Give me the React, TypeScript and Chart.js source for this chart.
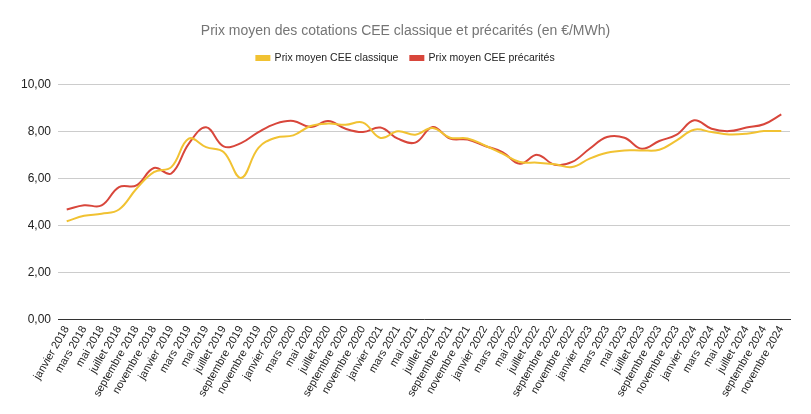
import { useEffect, useRef } from "react";
import { Chart, registerables, ChartOptions, Plugin } from "chart.js";

Chart.register(...registerables);

const months = ["janvier", "mars", "mai", "juillet", "septembre", "novembre"];
const years = [2018, 2019, 2020, 2021, 2022, 2023, 2024];
const labels: string[] = years.flatMap((y) => months.map((m) => `${m} ${y}`));

const classique = [
  4.18, 4.41, 4.5, 4.68, 5.56, 6.27, 6.48, 7.69, 7.33, 7.12, 6.02, 7.3,
  7.73, 7.83, 8.23, 8.33, 8.28, 8.37, 7.72, 8.0, 7.86, 8.14, 7.73, 7.7,
  7.4, 7.05, 6.7, 6.67, 6.6, 6.48, 6.84, 7.09, 7.19, 7.19, 7.22, 7.62,
  8.07, 7.97, 7.87, 7.9, 8.01, 8.01,
];

const precarites = [
  4.68, 4.86, 4.85, 5.63, 5.7, 6.44, 6.21, 7.47, 8.17, 7.36, 7.5, 7.97,
  8.33, 8.44, 8.18, 8.44, 8.11, 7.97, 8.16, 7.69, 7.52, 8.18, 7.69, 7.65,
  7.38, 7.12, 6.62, 7.0, 6.58, 6.7, 7.26, 7.76, 7.73, 7.26, 7.59, 7.86,
  8.47, 8.11, 8.01, 8.16, 8.3, 8.72,
];

const fontFamily = "Arial, 'Liberation Sans', sans-serif";

// pousse le graphique vers le bas sous la légende
const legendGap: Plugin<"line"> = {
  id: "legendGap",
  beforeInit(chart) {
    const legend = chart.legend as any;
    if (!legend) return;
    const fit = legend.fit;
    legend.fit = function () {
      fit.bind(legend)();
      this.height += 11;
    };
  },
};

export default function App() {
  const canvasRef = useRef<HTMLCanvasElement | null>(null);

  useEffect(() => {
    document.body.style.margin = "0";
    if (!canvasRef.current) return;

    const options: ChartOptions<"line"> = {
      responsive: false,
      animation: false,
      layout: { padding: { left: 21, right: 21, bottom: 11, top: 0 } },
      plugins: {
        title: {
          display: true,
          text: "Prix moyen des cotations CEE classique et précarités (en €/MWh)",
          color: "#757575",
          font: { family: fontFamily, size: 14, weight: "normal" },
          padding: { top: 23, bottom: 1 },
        },
        legend: {
          display: true,
          labels: {
            boxWidth: 13,
            boxHeight: 4,
            padding: 12,
            color: "#222",
            font: { family: fontFamily, size: 10.5 },
          },
        },
        tooltip: { enabled: false },
      },
      scales: {
        x: {
          offset: true,
          grid: { display: false, drawTicks: false },
          border: { display: true, color: "#333", width: 1 },
          ticks: {
            autoSkip: false,
            minRotation: 60,
            maxRotation: 60,
            padding: 4,
            color: "#222",
            font: { family: fontFamily, size: 11 },
          },
        },
        y: {
          min: 0,
          max: 10,
          afterFit: (scale) => {
            scale.width = 37;
          },
          grid: { color: "#cccccc", drawTicks: false },
          border: { display: false },
          ticks: {
            stepSize: 2,
            padding: 7,
            color: "#222",
            font: { family: fontFamily, size: 12 },
            callback: (v) => Number(v).toFixed(2).replace(".", ","),
          },
        },
      },
    };

    const chart = new Chart(canvasRef.current, {
      type: "line",
      data: {
        labels,
        datasets: [
          {
            label: "Prix moyen CEE classique",
            data: classique,
            borderColor: "#F1C232",
            backgroundColor: "#F1C232",
            borderWidth: 2,
            pointRadius: 0,
            tension: 0.4,
          },
          {
            label: "Prix moyen CEE précarités",
            data: precarites,
            borderColor: "#D8463B",
            backgroundColor: "#D8463B",
            borderWidth: 2,
            pointRadius: 0,
            tension: 0.4,
          },
        ],
      },
      options,
      plugins: [legendGap],
    });

    return () => {
      chart.destroy();
    };
  }, []);

  return <canvas ref={canvasRef} width={811} height={414} style={{ display: "block" }} />;
}
